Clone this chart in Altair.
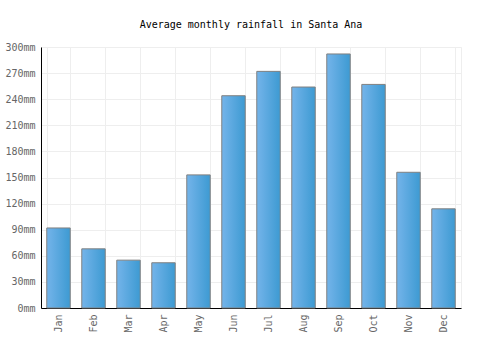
import altair as alt
import pandas as pd

months = ["Jan", "Feb", "Mar", "Apr", "May", "Jun", "Jul", "Aug", "Sep", "Oct", "Nov", "Dec"]
rainfall = [92, 68, 55, 52, 153, 244, 272, 254, 292, 257, 156, 114]

df = pd.DataFrame({"month": months, "rain": rainfall})

font = "DejaVu Sans Mono"

chart = alt.Chart(df).mark_bar(
    stroke="#808080",
    strokeWidth=1,
    color=alt.Gradient(
        gradient="linear",
        x1=0, x2=1, y1=0, y2=0,
        stops=[alt.GradientStop(color="#74b4ea", offset=0),
               alt.GradientStop(color="#3d9ad2", offset=1)],
    ),
).encode(
    x=alt.X("month:N", sort=months, title=None,
            scale=alt.Scale(paddingInner=0.33, paddingOuter=0.165),
            axis=alt.Axis(labelAngle=-90, labelAlign="right", labelBaseline="middle",
                          labelColor="#666666", labelFont=font, labelFontSize=10,
                          domainColor="#000000", ticks=False, labelPadding=6,
                          grid=True, gridColor="#eeeeee", tickBand="extent")),
    y=alt.Y("rain:Q", title=None,
            scale=alt.Scale(domain=[0, 300], nice=False),
            axis=alt.Axis(values=list(range(0, 301, 30)), labelExpr="datum.value + 'mm'",
                          labelColor="#666666", labelFont=font, labelFontSize=10,
                          domainColor="#000000", ticks=False, labelPadding=6,
                          gridColor="#eeeeee")),
).properties(
    width=420,
    height=261,
    title=alt.TitleParams("Average monthly rainfall in Santa Ana", font=font,
                          fontSize=10, fontWeight="normal", color="#000000", offset=12),
    autosize=alt.AutoSizeParams(type="none"),
    padding={"left": 41, "top": 47, "right": 39, "bottom": 42},
).configure_view(stroke="#eeeeee")

chart.save("out.html", embed_options={"renderer": "svg", "actions": False})
